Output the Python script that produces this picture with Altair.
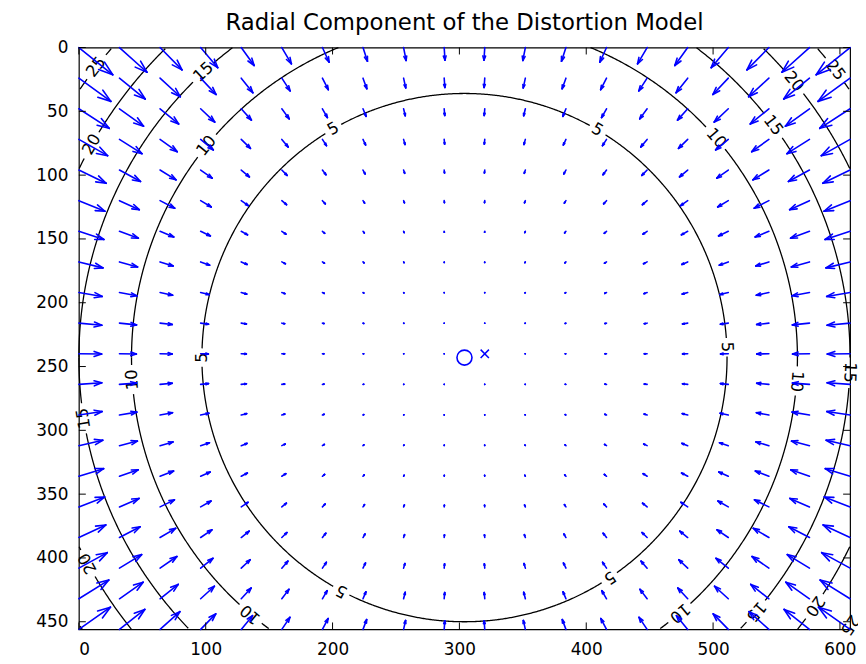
import altair as alt
import numpy as np
import pandas as pd

TITLE = "Radial Component of the Distortion Model"

# quiver grid positions (image pixels)
grid_x = [0, 32, 64, 96, 128, 160, 192, 224, 256, 288, 320, 352, 384, 416, 448, 480, 512, 544, 576, 608]
grid_y = [0, 24, 48, 72, 96, 120, 144, 168, 192, 216, 240, 264, 288, 312, 336, 360, 384, 408, 432, 456]
x_ticks = [0, 100, 200, 300, 400, 500, 600]
y_ticks = [0, 50, 100, 150, 200, 250, 300, 350, 400, 450]
x_domain = [0, 608]
y_domain = [0, 456]

principal_point = [304, 243]   # "o"
image_center = [320, 240]      # "x"

# contour levels (pixels of radial displacement) and their radius about the principal point
contour_levels = [5, 10, 15, 20, 25]
contour_radii = [207, 262.5, 304, 338, 369]

# radial displacement (pixels) against radius
disp_radius = [0, 50, 100, 150, 207, 262.5, 304, 338, 369, 400]
disp_pixels = [0, 0.13, 0.66, 2.0, 5, 10, 15, 20, 25, 30.5]

# where clabel put the labels (angle about the principal point, degrees, screen orientation)
label_angles = {
    5: [-120, -59.6, -2.3, 56.4, 117.9, 180],
    10: [-140.8, -40.9, 4.1, 49.7, 130, 176.2],
    15: [-132.6, -36.8, 2.2, 40.9, 171],
    20: [-150.4, -39.8, 35.2, 151.5],
    25: [-141.9, -37.6, 34.6],
}

W, H = 778, 587
FONT = "DejaVu Sans"
BLUE = "#0000FF"
LABEL_FS = 16.5

# ---------------- arrows (quiver with autoscale 0.9) ----------------
cx, cy = principal_point
rows, heads = [], []
mags = []
for yy in grid_y:
    for xx in grid_x:
        dx, dy = xx - cx, yy - cy
        r = np.hypot(dx, dy)
        m = float(np.interp(r, disp_radius, disp_pixels))
        u = -m * dx / r if r > 0 else 0.0
        v = -m * dy / r if r > 0 else 0.0
        mags.append((xx, yy, u, v))
delx = (max(grid_x) - min(grid_x)) / len(grid_x)
dely = (max(grid_y) - min(grid_y)) / len(grid_y)
spacing = np.hypot(delx, dely)
maxlen = max(np.hypot(u, v) for _, _, u, v in mags) / spacing
scale = 0.9 / maxlen
alpha, beta = 0.33, 0.33
for xx, yy, u, v in mags:
    u, v = u * scale, v * scale
    tx, ty = xx + u, yy + v
    rows.append({"x": xx, "y": yy, "x2": tx, "y2": ty})
    heads.append({"x": tx, "y": ty, "x2": tx - alpha * (u + beta * v), "y2": ty - alpha * (v - beta * u)})
    heads.append({"x": tx, "y": ty, "x2": tx - alpha * (u - beta * v), "y2": ty - alpha * (v + beta * u)})
arrows = pd.DataFrame(rows + heads)

# ---------------- contours with label gaps (kept inside the axes) ----------------
px_per_unit = W / (x_domain[1] - x_domain[0])
crow, lrow = [], []
for lev, rad in zip(contour_levels, contour_radii):
    txt = str(lev)
    half_gap = np.degrees(((len(txt) * 0.636 * LABEL_FS + 7) / 2) / px_per_unit / rad)
    angs = label_angles[lev]
    seg, prev_in = 0, False
    i = 0
    for t in np.arange(-180, 180.001, 0.25):
        px = cx + rad * np.cos(np.radians(t))
        py = cy + rad * np.sin(np.radians(t))
        gap = any(abs((t - a + 180) % 360 - 180) < half_gap for a in angs)
        outside = not (x_domain[0] <= px <= x_domain[1] and y_domain[0] <= py <= y_domain[1])
        if gap or outside:
            if prev_in:
                seg += 1
            prev_in = False
            continue
        prev_in = True
        crow.append({"x": px, "y": py, "seg": f"{lev}-{seg}", "i": i})
        i += 1
    for a in angs:
        lrow.append({"x": cx + rad * np.cos(np.radians(a)), "y": cy + rad * np.sin(np.radians(a)),
                     "text": txt, "angle": (a + 90) % 360})
contours = pd.DataFrame(crow)
labels = pd.DataFrame(lrow)

xs = alt.Scale(domain=x_domain, nice=False, zero=False)
ys = alt.Scale(domain=y_domain, nice=False, zero=False, reverse=True)
xaxis = alt.Axis(values=x_ticks, title=None, grid=False, ticks=False, tickSize=0, domain=False,
                 labelFont=FONT, labelFontSize=17, labelColor="black", labelPadding=12)
yaxis = alt.Axis(values=y_ticks, title=None, grid=False, ticks=False, tickSize=0, domain=False,
                 labelFont=FONT, labelFontSize=17, labelColor="black", labelPadding=11)


def X(f):
    return alt.X(f, type="quantitative", scale=xs, axis=xaxis)


def Y(f):
    return alt.Y(f, type="quantitative", scale=ys, axis=yaxis)


contour_layer = alt.Chart(contours).mark_line(color="black", strokeWidth=1.3).encode(
    x=X("x"), y=Y("y"), detail="seg:N", order=alt.Order("i:Q"))

label_layer = alt.Chart(labels).mark_text(font=FONT, fontSize=LABEL_FS, color="black",
                                          align="center", baseline="middle").encode(
    x=X("x"), y=Y("y"), text="text:N", angle=alt.Angle("angle:Q", scale=None))

arrow_layer = alt.Chart(arrows).mark_rule(color=BLUE, strokeWidth=1.6, strokeCap="round").encode(
    x=X("x"), y=Y("y"), x2="x2:Q", y2="y2:Q")

pp_layer = alt.Chart(pd.DataFrame({"x": [principal_point[0]], "y": [principal_point[1]]})).mark_point(
    shape="circle", size=230, color=BLUE, strokeWidth=1.6, filled=False, opacity=1).encode(x=X("x"), y=Y("y"))

ic_layer = alt.Chart(pd.DataFrame({"x": [image_center[0]], "y": [image_center[1]]})).mark_point(
    shape="M-1,-1L1,1M-1,1L1,-1", size=70, color=BLUE, strokeWidth=1.5, filled=False, opacity=1).encode(
    x=X("x"), y=Y("y"))

tx = pd.DataFrame({"t": x_ticks})
ty = pd.DataFrame({"t": y_ticks})
TL = 7
tick_bottom = alt.Chart(tx).mark_rule(color="black", strokeWidth=1).encode(
    x=X("t"), y=alt.value(H), y2=alt.value(H - TL))
tick_top = alt.Chart(tx).mark_rule(color="black", strokeWidth=1).encode(
    x=X("t"), y=alt.value(0), y2=alt.value(TL))
tick_left = alt.Chart(ty).mark_rule(color="black", strokeWidth=1).encode(
    y=Y("t"), x=alt.value(0), x2=alt.value(TL))
tick_right = alt.Chart(ty).mark_rule(color="black", strokeWidth=1).encode(
    y=Y("t"), x=alt.value(W - TL), x2=alt.value(W))

title_layer = alt.Chart(pd.DataFrame({"t": [TITLE]})).mark_text(
    font=FONT, fontSize=23, color="black", align="center", baseline="alphabetic").encode(
    text="t:N", x=alt.value(W / 2), y=alt.value(-18))

chart = alt.layer(
    contour_layer, label_layer, arrow_layer, pp_layer, ic_layer,
    tick_bottom, tick_top, tick_left, tick_right, title_layer,
).properties(
    width=W, height=H,
    padding={"left": 71.5, "top": 37, "right": 8, "bottom": 30},
    autosize=alt.AutoSizeParams(type="none"),
).configure_view(stroke="black", strokeWidth=1.2)

chart.save("out.html", embed_options={"renderer": "svg", "actions": False})
